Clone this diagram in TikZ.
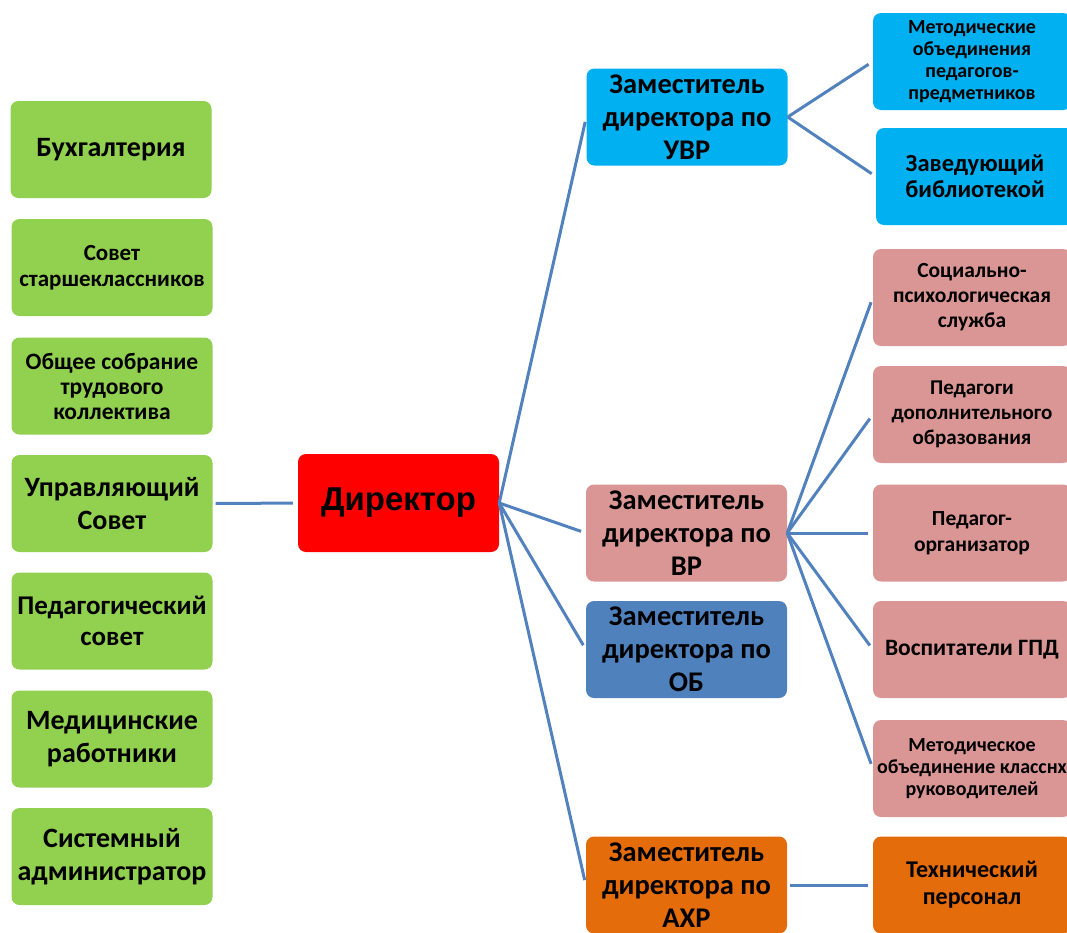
\documentclass[tikz,border=0pt]{standalone}
\usepackage{fontspec}
\setmainfont{Carlito}
\newfontfamily\dirfont{Liberation Sans}
\newcommand\fsz[2]{\fontsize{#1}{#2}\selectfont\bfseries}
\definecolor{grn}{HTML}{92D050}
\definecolor{cyn}{HTML}{00B0F0}
\definecolor{pnk}{HTML}{DA9694}
\definecolor{blu}{HTML}{4F81BD}
\definecolor{org}{HTML}{E46C0A}
\definecolor{lnk}{HTML}{5282BE}
\begin{document}
\begin{tikzpicture}[x=1pt,y=-1pt,
  box/.style={rounded corners=8pt,align=center,inner sep=0pt,minimum height=97pt,text=black},
  lbox/.style={box,fill=grn,minimum width=201pt},
  dbox/.style={box,minimum width=201pt,font=\fsz{28.5}{33}},
  rbox/.style={box,minimum width=198pt},
  link/.style={draw=lnk,line width=3pt,shorten >=5pt}]
\useasboundingbox (0,0) rectangle (1067,932);
% left column
\node[lbox,font=\fsz{28}{33}] (buh) at (111,149.5) {Бухгалтерия};
\node[lbox,font=\fsz{23}{26}] (sovst) at (112,267.5) {Совет\\старшеклассников};
\node[lbox,font=\fsz{23.5}{25}] (obsh) at (112,386) {Общее собрание\\трудового\\коллектива};
\node[lbox,font=\fsz{28}{33}] (upr) at (112,503.5) {Управляющий\\Совет};
\node[lbox,font=\fsz{27}{31}] (ped) at (112,621) {Педагогический\\совет};
\node[lbox,font=\fsz{28}{33}] (med) at (112,739) {Медицинские\\работники};
\node[lbox,font=\fsz{28}{33}] (sys) at (112,856.5) {Системный\\администратор};
% director
\node[box,fill=red,minimum width=201pt,minimum height=98pt,font=\dirfont\fontsize{33}{40}\selectfont\bfseries] (dir) at (398.5,503) {Директор};
% deputies
\node[dbox,fill=cyn] (uvr) at (687,117) {Заместитель\\директора по\\УВР};
\node[dbox,fill=pnk] (vr) at (686.5,533) {Заместитель\\директора по\\ВР};
\node[dbox,fill=blu] (ob) at (686.5,649.5) {Заместитель\\директора по\\ОБ};
\node[dbox,fill=org] (ahr) at (686.5,885) {Заместитель\\директора по\\АХР};
% right column
\node[rbox,fill=cyn,font=\fsz{20}{22}] (metob) at (972,61.5) {Методические\\объединения\\педагогов-\\предметников};
\node[rbox,fill=cyn,font=\fsz{24.5}{26}] (bib) at (975,176.5) {Заведующий\\библиотекой};
\node[rbox,fill=pnk,font=\fsz{21.5}{25}] (soc) at (972,297.5) {Социально-\\психологическая\\служба};
\node[rbox,fill=pnk,font=\fsz{21}{25}] (dop) at (972,414.5) {Педагоги\\дополнительного\\образования};
\node[rbox,fill=pnk,font=\fsz{21.5}{26}] (org) at (972,533) {Педагог-\\организатор};
\node[rbox,fill=pnk,font=\fsz{23.5}{25}] (gpd) at (972,649.5) {Воспитатели ГПД};
\node[rbox,fill=pnk,font=\fsz{20}{22}] (metkl) at (972,768.5) {Методическое\\объединение класснх\\руководителей};
\node[rbox,fill=org,font=\fsz{24}{27}] (tex) at (972,885) {Технический\\персонал};
% connectors
\draw[link,shorten <=3pt] (upr) -- (dir);
\foreach \d in {uvr,vr,ob,ahr}
  \draw[link] (dir.east) -- (\d.west);
\foreach \r in {metob,bib}
  \draw[link] (uvr.east) -- (\r.west);
\foreach \r in {soc,dop,org,gpd,metkl}
  \draw[link] (vr.east) -- (\r.west);
\draw[link,shorten <=3pt] (ahr) -- (tex);
\end{tikzpicture}
\end{document}
